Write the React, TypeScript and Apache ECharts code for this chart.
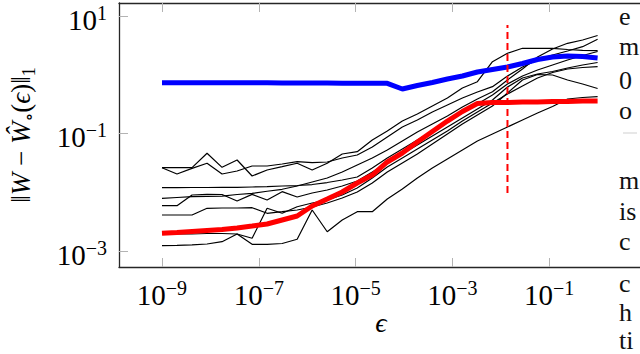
import React, { useEffect, useRef } from "react";
import * as echarts from "echarts";

// x samples: log10(epsilon), 30 points from 1e-9 to 1e0
const epsLog10 = [
  -9.0, -8.69, -8.379, -8.069, -7.759, -7.448, -7.138, -6.828, -6.517, -6.207,
  -5.897, -5.586, -5.276, -4.966, -4.655, -4.345, -4.034, -3.724, -3.414, -3.103,
  -2.793, -2.483, -2.172, -1.862, -1.552, -1.241, -0.931, -0.621, -0.31, 0.0,
];

// log10 of ||W - W_hat(eps)||_1
const blueLog10 = [
  -0.136, -0.136, -0.137, -0.137, -0.138, -0.138, -0.139, -0.139, -0.14, -0.141,
  -0.142, -0.143, -0.144, -0.145, -0.146, -0.147, -0.244, -0.184, -0.133, -0.073,
  -0.022, 0.046, 0.089, 0.131, 0.191, 0.259, 0.302, 0.319, 0.31, 0.285,
];
const redLog10 = [
  -2.702, -2.688, -2.671, -2.654, -2.637, -2.612, -2.578, -2.543, -2.475, -2.407,
  -2.237, -2.118, -1.998, -1.845, -1.709, -1.487, -1.334, -1.147, -0.968, -0.789,
  -0.627, -0.491, -0.474, -0.474, -0.465, -0.465, -0.457, -0.457, -0.448, -0.448,
];
const black1 = [
  -1.584, -1.584, -1.584, -1.339, -1.578, -1.453, -1.726, -1.624, -1.567, -1.509,
  -1.624, -1.509, -1.351, -1.312, -1.112, -0.959, -0.789, -0.67, -0.533, -0.397,
  -0.227, -0.119, 0.221, 0.365, 0.45, 0.45, 0.45, 0.429, 0.416, 0.409,
];
const black2 = [
  -1.584, -1.692, -1.595, -1.509, -1.692, -1.641, -1.555, -1.555, -1.521, -1.482,
  -1.499, -1.487, -1.419, -1.368, -1.232, -1.061, -0.891, -0.772, -0.635, -0.516,
  -0.397, -0.295, -0.204, -0.022, 0.131, 0.25, 0.336, 0.404, 0.477, 0.603,
];
const black3 = [
  -2.106, -2.092, -2.078, -2.072, -2.067, -2.041, -2.021, -1.986, -1.952, -1.896,
  -1.828, -1.76, -1.658, -1.538, -1.419, -1.283, -1.13, -0.976, -0.84, -0.704,
  -0.55, -0.414, -0.29, -0.09, 0.097, 0.302, 0.438, 0.535, 0.591, 0.668,
];
const black4 = [
  -1.925, -1.925, -1.922, -1.922, -1.918, -1.918, -1.913, -1.908, -1.896, -1.888,
  -1.871, -1.837, -1.794, -1.743, -1.589, -1.419, -1.266, -1.112, -0.959, -0.806,
  -0.653, -0.499, -0.346, -0.158, -0.022, 0.08, 0.165, 0.25, 0.327, 0.395,
];
const black5 = [
  -2.232, -2.232, -2.049, -2.038, -2.041, -2.152, -2.038, -2.135, -1.993, -2.084,
  -2.015, -1.964, -1.896, -1.811, -1.658, -1.504, -1.351, -1.198, -1.044, -0.891,
  -0.738, -0.584, -0.431, -0.21, -0.056, 0.012, 0.055, 0.114, 0.165, 0.208,
];
const black6 = [
  -2.714, -2.714, -2.714, -2.705, -2.705, -2.714, -2.787, -2.276, -2.361, -2.249,
  -2.186, -2.135, -2.049, -1.93, -1.76, -1.572, -1.419, -1.266, -1.112, -0.959,
  -0.789, -0.635, -0.482, -0.329, -0.193, -0.056, 0.038, 0.097, 0.123, 0.136,
];
const black7 = [
  -2.39, -2.39, -2.39, -2.276, -2.271, -2.271, -2.266, -2.361, -2.334, -2.305,
  -2.254, -2.186, -2.101, -1.998, -1.845, -1.658, -1.504, -1.351, -1.181, -1.01,
  -0.84, -0.687, -0.533, -0.312, -0.09, 0.003, -0.005, -0.09, -0.158, -0.235,
];
const black8 = [
  -2.913, -2.906, -2.898, -2.884, -2.845, -2.714, -2.889, -2.889, -2.876, -2.804,
  -2.305, -2.675, -2.475, -2.334, -2.334, -2.118, -1.947, -1.76, -1.589, -1.436,
  -1.283, -1.13, -1.01, -0.891, -0.772, -0.653, -0.542, -0.414, -0.388, -0.375,
];
const blackSeries = [black1, black2, black3, black4, black5, black6, black7, black8];

// vertical dashed threshold line: at epsilon sample 23, spanning log10 values
const thresholdEpsLog10 = epsLog10[23];
const thresholdSpanLog10 = [-2.015, 0.847];

// axes (log10 exponents)
const xRange = [-9.888, 0.876];
const yRange = [-3.276, 1.2215];
const xTickExps = [-9, -7, -5, -3, -1];
const yTickExps = [-3, -1, 1];

// cropped neighbouring body text on the right
const sideTexts = ["e", "m", "0", "o", "m", "is", "c", "c", "h", "ti"];
const sideTextY = [16, 46, 80, 110, 180, 211, 241, 283, 312, 340.5];

const FONT = '"Liberation Serif", "DejaVu Serif", serif';

const powFmt = (v: number) => {
  const e = Math.round(v);
  return `{b|10}{e|${e < 0 ? "\u2212" : ""}${Math.abs(e)}}`;
};
const powRich = {
  b: { fontSize: 29, lineHeight: 34, fontFamily: FONT, color: "#000" },
  e: { fontSize: 20, lineHeight: 16, verticalAlign: "top", fontFamily: FONT, color: "#000" },
};

export default function App() {
  const ref = useRef<HTMLDivElement>(null);
  useEffect(() => {
    if (!ref.current) return;
    const chart = echarts.init(ref.current, undefined, { renderer: "svg" });
    const tickStyle = { color: "#b3b3b3", width: 1 };
    const axisLineStyle = { color: "#262626", width: 1.3 };
    const series: any[] = blackSeries.map((vals, k) => ({
      type: "line",
      name: "run" + (k + 1),
      data: epsLog10.map((x, i) => [x, vals[i]]),
      showSymbol: false,
      silent: true,
      lineStyle: { color: "#000", width: 1.2 },
      z: 2,
    }));
    series.push({
      type: "line",
      name: "blue",
      data: epsLog10.map((x, i) => [x, blueLog10[i]]),
      showSymbol: false,
      silent: true,
      lineStyle: { color: "#0000ff", width: 5 },
      z: 3,
    });
    series.push({
      type: "line",
      name: "red",
      data: epsLog10.map((x, i) => [x, redLog10[i]]),
      showSymbol: false,
      silent: true,
      lineStyle: { color: "#ff0000", width: 5 },
      z: 4,
    });
    series.push({
      type: "line",
      name: "threshold",
      data: thresholdSpanLog10.map((y) => [thresholdEpsLog10, y]),
      showSymbol: false,
      silent: true,
      lineStyle: { color: "#ff0000", width: 2, type: [7, 4] },
      z: 5,
    });

    const sideGraphics = sideTexts.map((t, i) => ({
      type: "text",
      x: 619,
      y: sideTextY[i],
      style: {
        text: t,
        fontFamily: FONT,
        fontSize: 26,
        fill: "#111",
        align: "left",
        verticalAlign: "middle",
      },
      z: 10,
    }));

    chart.setOption({
      animation: false,
      backgroundColor: "#fff",
      grid: { left: 119, right: 0, top: 3, bottom: 87, containLabel: false },
      xAxis: [
        {
          type: "value",
          position: "bottom",
          min: xRange[0],
          max: xRange[1],
          axisLine: { show: true, onZero: false, lineStyle: axisLineStyle },
          axisTick: { show: true, inside: true, length: 9, customValues: xTickExps, lineStyle: tickStyle },
          axisLabel: { customValues: xTickExps, formatter: powFmt, margin: 11, rich: powRich },
          splitLine: { show: false },
        },
        {
          type: "value",
          position: "top",
          min: xRange[0],
          max: xRange[1],
          axisLine: { show: true, onZero: false, lineStyle: axisLineStyle },
          axisTick: { show: true, inside: true, length: 9, customValues: xTickExps, lineStyle: tickStyle },
          axisLabel: { show: false },
          splitLine: { show: false },
        },
      ],
      yAxis: [
        {
          type: "value",
          position: "left",
          min: yRange[0],
          max: yRange[1],
          axisLine: { show: true, onZero: false, lineStyle: axisLineStyle },
          axisTick: { show: true, inside: true, length: 9, customValues: yTickExps, lineStyle: tickStyle },
          axisLabel: {
            customValues: yTickExps,
            formatter: powFmt,
            margin: 12,
            padding: [8, 0, 0, 0],
            rich: powRich,
          },
          splitLine: { show: false },
        },
      ],
      graphic: [
        {
          type: "text",
          x: 21,
          y: 135,
          rotation: Math.PI / 2,
          style: {
            text: "{n|\u2016}{i|W}{n| \u2212 }{i|\u0174}{s|\u2218}{n|(}{i|\u03f5}{n|)\u2016}{s|1}",
            align: "center",
            verticalAlign: "middle",
            rich: {
              n: { fontSize: 27, lineHeight: 34, fontFamily: FONT, fill: "#000" },
              i: { fontSize: 27, lineHeight: 34, fontFamily: FONT, fontStyle: "italic", fill: "#000" },
              s: { fontSize: 18, lineHeight: 14, verticalAlign: "bottom", fontFamily: FONT, fill: "#000" },
            },
          },
          z: 10,
        },
        {
          type: "text",
          x: 381,
          y: 322,
          style: {
            text: "\u03f5",
            fontFamily: FONT,
            fontStyle: "italic",
            fontSize: 28,
            fill: "#000",
            align: "center",
            verticalAlign: "middle",
          },
          z: 10,
        },
        {
          type: "line",
          shape: { x1: 623, y1: 133, x2: 637, y2: 133 },
          style: { stroke: "#cfcfcf", lineWidth: 1 },
          z: 10,
        },
        ...sideGraphics,
      ],
      series,
    });
    return () => chart.dispose();
  }, []);
  return (
    <div
      ref={ref}
      style={{ position: "fixed", left: 0, top: 0, width: 640, height: 354, background: "#fff" }}
    />
  );
}
